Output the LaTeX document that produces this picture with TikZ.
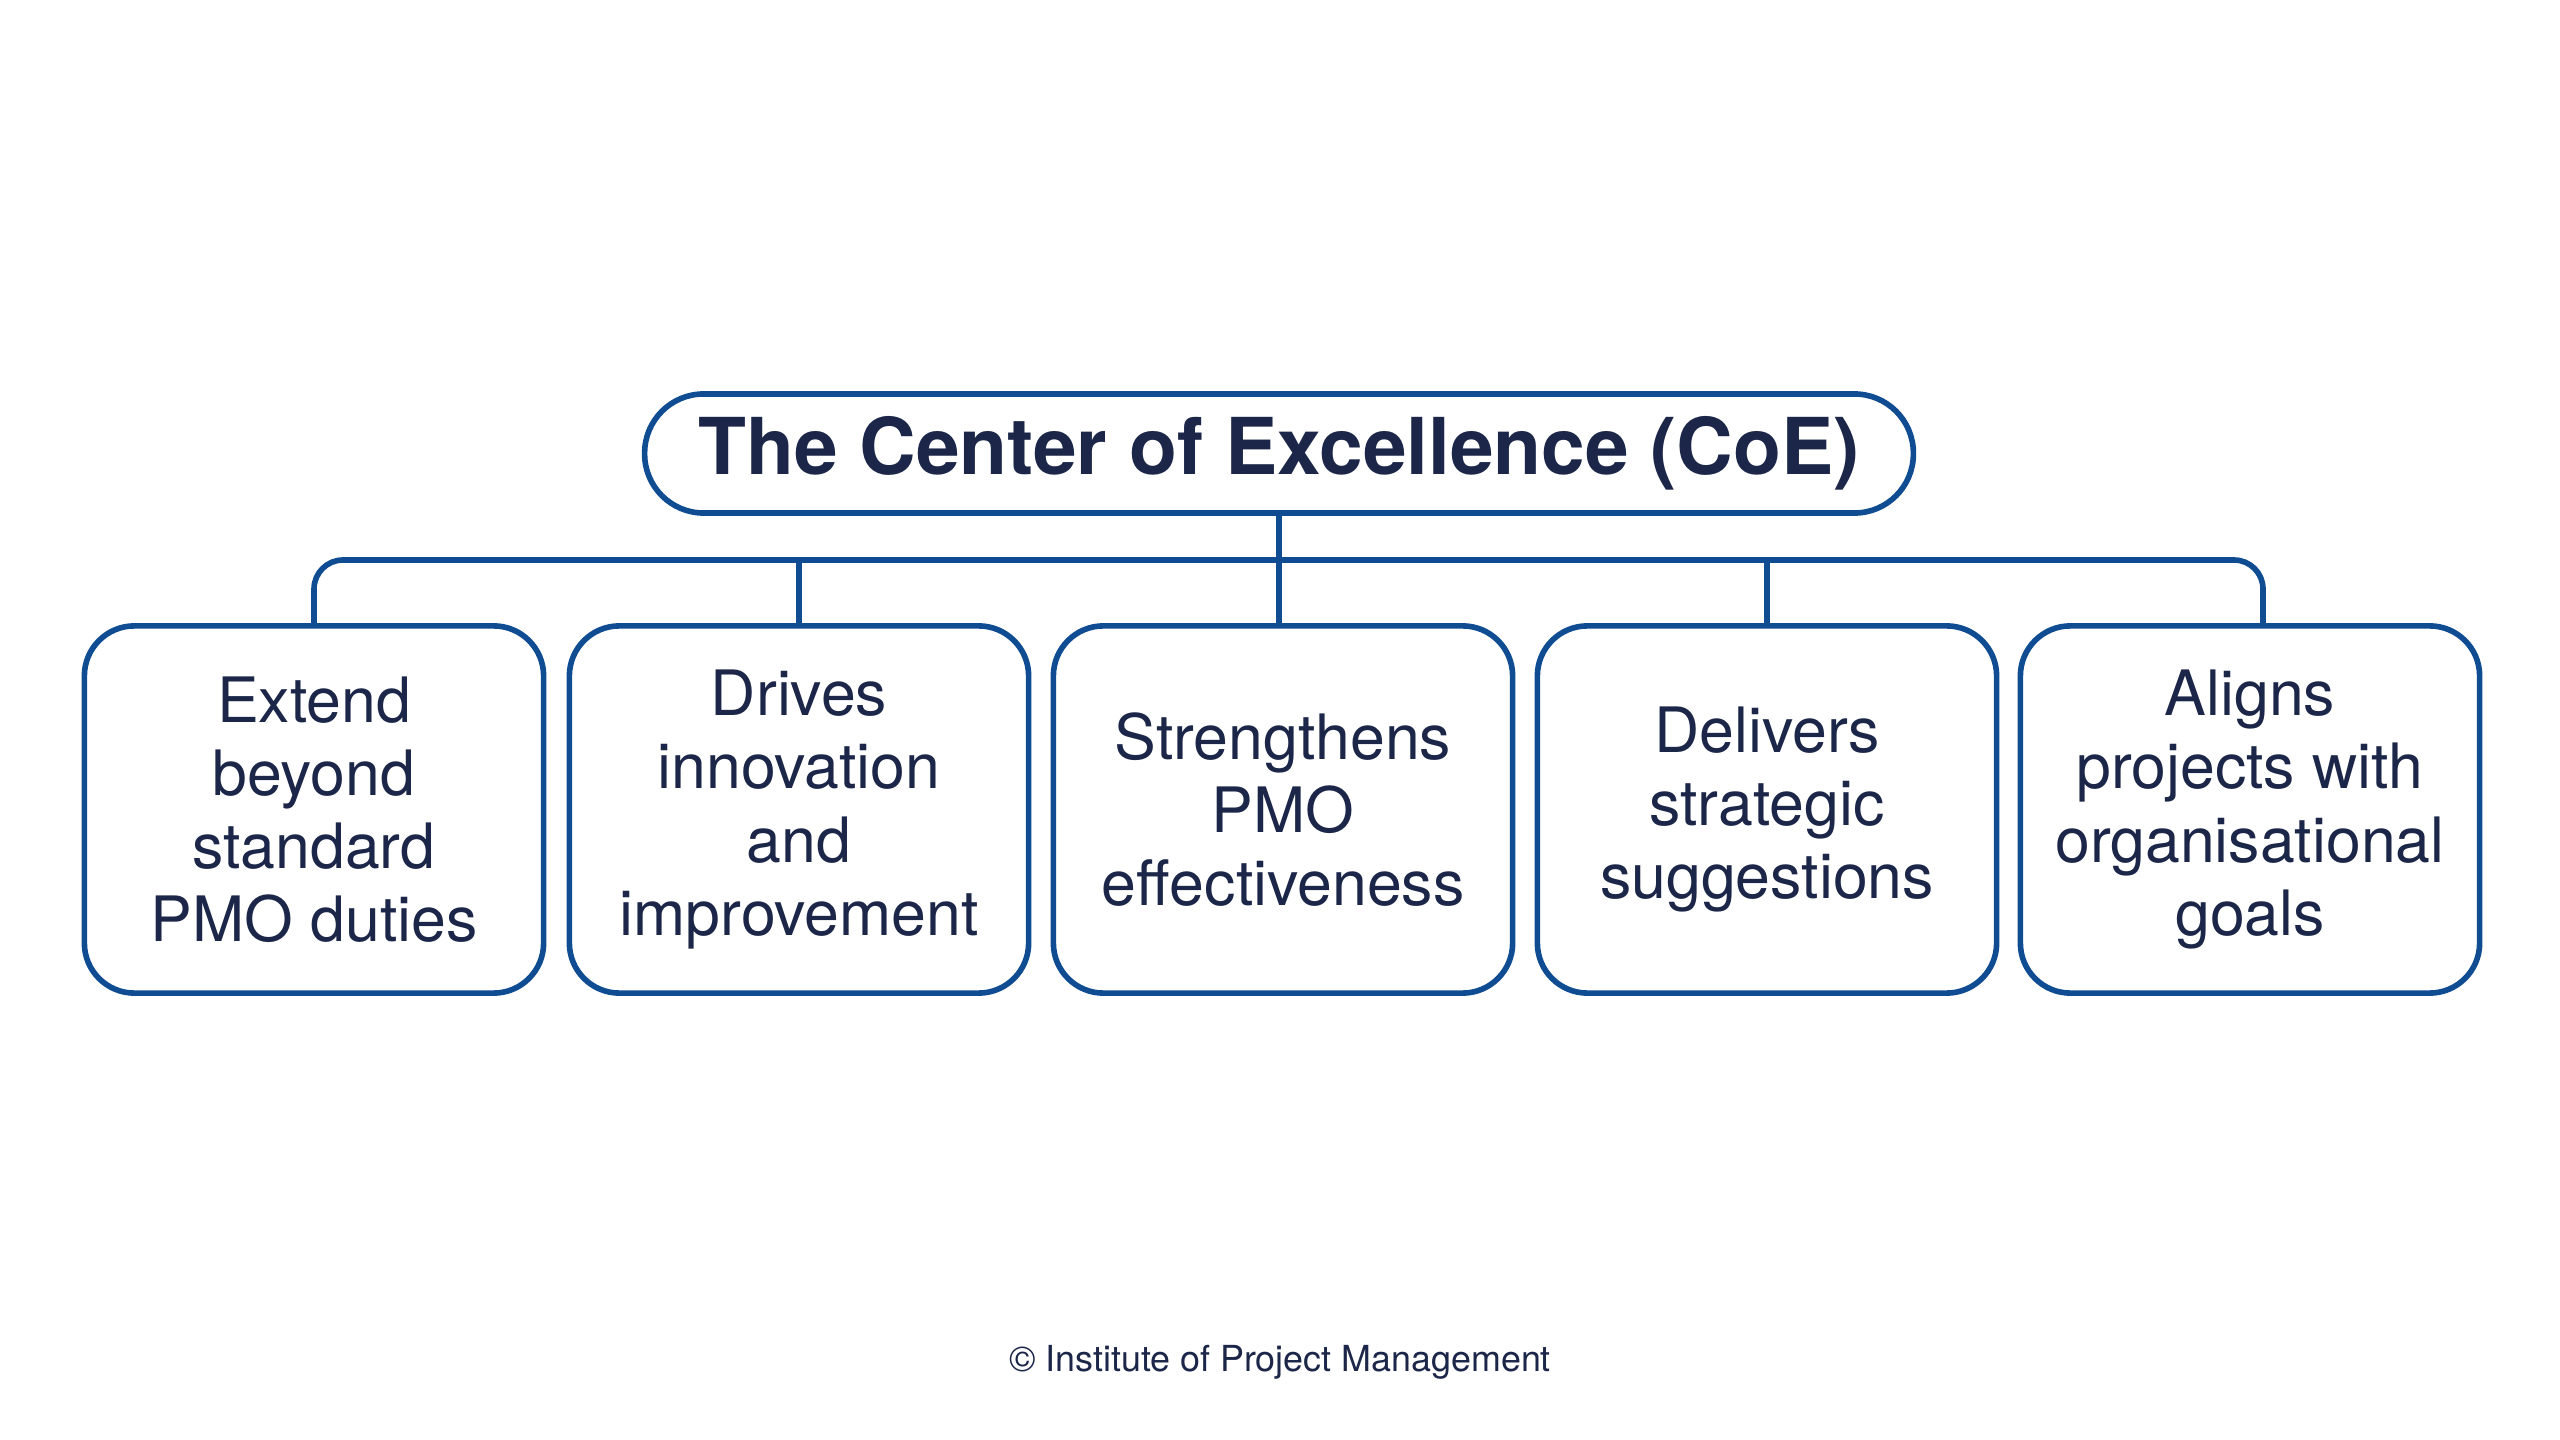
\documentclass[tikz,border=0pt]{standalone}
\usepackage{fontspec}
\setmainfont{TeX Gyre Heros}
\definecolor{lineblue}{HTML}{0F4C92}
\definecolor{navy}{HTML}{1B2648}
\begin{document}
\begin{tikzpicture}[x=0.01cm,y=-0.01cm,
  conn/.style={draw=lineblue,line width=1.6pt},
  itembox/.style={draw=lineblue,line width=1.6pt,rounded corners=0.5cm,
    minimum width=4.59cm,minimum height=3.67cm,inner sep=0pt,
    text=navy,align=center,font=\fontsize{17.8}{20.8}\selectfont},
  titlebox/.style={draw=lineblue,line width=1.6pt,rounded corners=0.59cm,
    minimum width=12.68cm,minimum height=1.19cm,inner sep=0pt,
    text=navy,font=\fontsize{22.3}{26}\selectfont\bfseries},
  foot/.style={text=navy,font=\fontsize{10.2}{12}\selectfont}]
\useasboundingbox (0,0) rectangle (2560,1440);
\node[titlebox] (title) at (1279,453.5) {The Center of Excellence (CoE)};
\node[itembox] (b1) at (314,809.5) {Extend\\beyond\\standard\\PMO duties};
\node[itembox] (b2) at (799,809.5) {Drives\\innovation\\and\\improvement};
\node[itembox] (b3) at (1283,809.5) {Strengthens\\PMO\\effectiveness};
\node[itembox] (b4) at (1767,809.5) {Delivers\\strategic\\suggestions};
\node[itembox] (b5) at (2250,809.5) {Aligns\\projects with\\organisational\\goals};
\coordinate (bus) at (1279,560);
\coordinate (b5top) at ([xshift=0.13cm]b5.north);
\draw[conn] (title.south) -- (title.south |- b3.north);
\draw[conn,rounded corners=0.29cm] (b1.north) |- (bus) -| (b5top);
\draw[conn] (b2.north) -- (b2.north |- bus);
\draw[conn] (b4.north) -- (b4.north |- bus);
\node[foot] (footer) at (1280,1362) {© Institute of Project Management};
\end{tikzpicture}
\end{document}
